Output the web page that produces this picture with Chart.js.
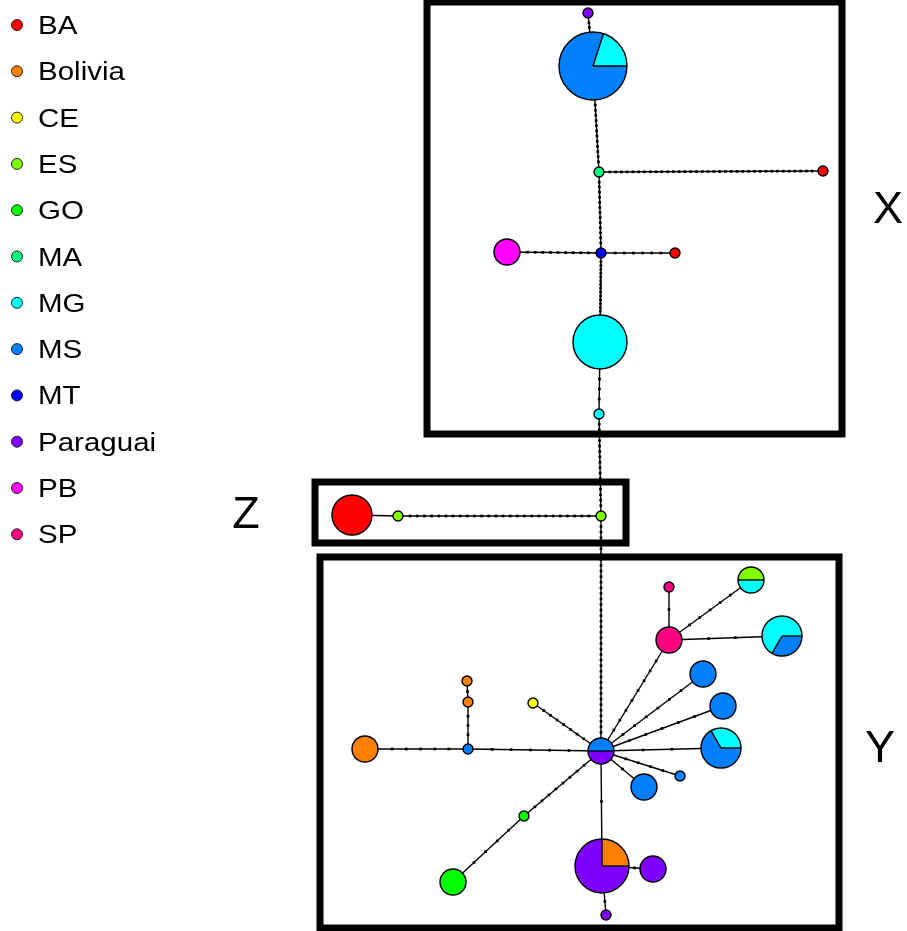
<!DOCTYPE html>
<html>
<head>
<meta charset="utf-8">
<script src="https://cdn.jsdelivr.net/npm/chart.js@4/dist/chart.umd.min.js"></script>
<style>
  html, body { margin: 0; padding: 0; background: #fff; }
  #wrap { width: 907px; height: 931px; }
</style>
</head>
<body>
<div id="wrap"><canvas id="net" width="907" height="931"></canvas></div>
<script>
// Sampling regions and their colours
const regions = ['BA', 'Bolivia', 'CE', 'ES', 'GO', 'MA', 'MG', 'MS', 'MT', 'Paraguai', 'PB', 'SP'];
const regionColors = ['#ff0000', '#ff8000', '#ffff00', '#80ff00', '#00ff00', '#00ff80',
                      '#00ffff', '#0080ff', '#0000ff', '#8000ff', '#ff00ff', '#ff0080'];

// Haplotype layout coordinates
const hapX = [588, 593, 599, 823, 601, 507, 675, 600, 599, 601, 398, 352,
              601, 669, 669, 751, 782, 703, 723, 721, 680, 644, 602, 653,
              606, 524, 453, 533, 468, 468, 467, 365];
const hapY = [13, 66, 172, 171, 253, 252, 253, 342, 414, 516, 516, 515,
              751, 640, 587, 580, 636, 674, 706, 748, 776, 787, 866, 869,
              915, 816, 882, 703, 749, 702, 681, 749];

// Number of individuals of each region carrying every haplotype
const hapCounts = [
  { Paraguai: 1 }, { MG: 1, MS: 4 }, { MA: 1 }, { BA: 1 }, { MT: 1 }, { PB: 2 },
  { BA: 1 }, { MG: 4 }, { MG: 1 }, { ES: 1 }, { ES: 1 }, { BA: 3 },
  { MS: 1, Paraguai: 1 }, { SP: 2 }, { SP: 1 }, { ES: 1, MG: 1 }, { MG: 2, MS: 1 },
  { MS: 2 }, { MS: 2 }, { MG: 1, MS: 2 }, { MS: 1 }, { MS: 2 },
  { Bolivia: 1, Paraguai: 3 }, { Paraguai: 2 }, { Paraguai: 1 }, { GO: 1 }, { GO: 2 },
  { CE: 1 }, { MS: 1 }, { Bolivia: 1 }, { Bolivia: 1 }, { Bolivia: 2 }
];

// Network links and the number of mutational steps on each
const edgeFrom  = [0, 1, 2, 2, 4, 4, 4, 7, 8, 9, 10, 9, 12, 13, 13, 13, 12, 12, 12, 12, 12, 12, 22, 22, 12, 25, 12, 12, 28, 28, 29];
const edgeTo    = [1, 2, 3, 4, 5, 6, 7, 8, 9, 10, 11, 12, 13, 14, 15, 16, 17, 18, 19, 20, 21, 22, 23, 24, 25, 26, 27, 28, 31, 29, 30];
const edgeSteps = [2, 12, 36, 13, 9, 6, 14, 3, 16, 26, 0, 38, 8, 1, 5, 2, 6, 5, 2, 4, 1, 1, 1, 1, 8, 4, 7, 5, 5, 3, 1];

// Group labels for the boxed clades
const cladeNames = ['X', 'Z', 'Y'];

// ---- drawing helpers ----
const radiusByCount = [0, 5, 13, 20, 27, 34];
function totalOf(c) { return Object.values(c).reduce((a, b) => a + b, 0); }
function radiusOf(i) { return radiusByCount[totalOf(hapCounts[i])]; }

// line datasets, one per link
const edgeSets = edgeFrom.map((f, k) => ({
  data: [{ x: hapX[f], y: hapY[f] }, { x: hapX[edgeTo[k]], y: hapY[edgeTo[k]] }],
  showLine: true,
  borderColor: '#000',
  borderWidth: 1.4,
  pointRadius: 0,
  order: 2
}));

// mutational step marks spread along each link, between the node rims
const marks = [];
edgeFrom.forEach((f, k) => {
  const t = edgeTo[k], n = edgeSteps[k];
  if (!n) return;
  const dx = hapX[t] - hapX[f], dy = hapY[t] - hapY[f];
  const len = Math.hypot(dx, dy);
  const r0 = radiusOf(f) / len, r1 = radiusOf(t) / len;
  for (let j = 1; j <= n; j++) {
    const s = r0 + (1 - r0 - r1) * j / (n + 1);
    marks.push({ x: hapX[f] + dx * s, y: hapY[f] + dy * s });
  }
});
const markSet = {
  data: marks,
  pointStyle: 'rect',
  pointRadius: 1.9,
  backgroundColor: '#000',
  borderWidth: 0,
  order: 1
};

const cladeBoxes = {
  X: { box: [427, 2, 842, 434], label: [888, 209] },
  Z: { box: [315, 482, 626, 543], label: [246, 514] },
  Y: { box: [320, 557, 839, 928], label: [880, 748] }
};

const networkPlugin = {
  id: 'haplotypeNetwork',
  beforeDatasetsDraw(chart) {
    const { ctx, scales: { x, y } } = chart;
    ctx.save();
    ctx.strokeStyle = '#000';
    ctx.lineWidth = 7;
    cladeNames.forEach(name => {
      const [x1, y1, x2, y2] = cladeBoxes[name].box;
      const px1 = x.getPixelForValue(x1), py1 = y.getPixelForValue(y1);
      const px2 = x.getPixelForValue(x2), py2 = y.getPixelForValue(y2);
      ctx.strokeRect(px1, py1, px2 - px1, py2 - py1);
    });
    ctx.restore();
  },
  afterDatasetsDraw(chart) {
    const { ctx, scales: { x, y } } = chart;
    ctx.save();
    hapX.forEach((hx, i) => {
      const cx = x.getPixelForValue(hx), cy = y.getPixelForValue(hapY[i]);
      const r = radiusOf(i);
      const counts = hapCounts[i];
      const total = totalOf(counts);
      let start = 0;
      const bounds = [];
      regions.forEach((reg, ri) => {
        const c = counts[reg];
        if (!c) return;
        const sweep = 2 * Math.PI * c / total;
        ctx.beginPath();
        ctx.moveTo(cx, cy);
        ctx.arc(cx, cy, r, start, start - sweep, true);
        ctx.closePath();
        ctx.fillStyle = regionColors[ri];
        ctx.fill();
        bounds.push(start);
        start -= sweep;
      });
      ctx.strokeStyle = '#000';
      ctx.lineWidth = 1.4;
      if (bounds.length > 1) {
        bounds.forEach(a => {
          ctx.beginPath();
          ctx.moveTo(cx, cy);
          ctx.lineTo(cx + r * Math.cos(a), cy + r * Math.sin(a));
          ctx.stroke();
        });
      }
      ctx.beginPath();
      ctx.arc(cx, cy, r, 0, 2 * Math.PI);
      ctx.stroke();
    });
    ctx.restore();
  },
  afterDraw(chart) {
    const { ctx, scales: { x, y } } = chart;
    ctx.save();
    // clade letters
    ctx.fillStyle = '#000';
    ctx.font = '45px "Liberation Sans", Arial, sans-serif';
    ctx.textAlign = 'center';
    ctx.textBaseline = 'middle';
    cladeNames.forEach(name => {
      const [lx, ly] = cladeBoxes[name].label;
      ctx.fillText(name, x.getPixelForValue(lx), y.getPixelForValue(ly) + 2);
    });
    // region legend
    ctx.textAlign = 'left';
    ctx.textBaseline = 'alphabetic';
    ctx.font = '25px "Liberation Sans", Arial, sans-serif';
    regions.forEach((reg, i) => {
      const rowY = 25 + i * 46.3;
      ctx.beginPath();
      ctx.arc(17, rowY, 5.5, 0, 2 * Math.PI);
      ctx.fillStyle = regionColors[i];
      ctx.fill();
      ctx.lineWidth = 1;
      ctx.strokeStyle = '#222';
      ctx.stroke();
      ctx.fillStyle = '#000';
      ctx.save();
      ctx.translate(38, rowY + 9);
      ctx.scale(1.18, 1);
      ctx.fillText(reg, 0, 0);
      ctx.restore();
    });
    ctx.restore();
  }
};

new Chart(document.getElementById('net'), {
  type: 'scatter',
  data: { datasets: [...edgeSets, markSet] },
  options: {
    responsive: false,
    animation: false,
    layout: { padding: 0, autoPadding: false },
    plugins: { legend: { display: false }, tooltip: { enabled: false } },
    scales: {
      x: { type: 'linear', min: 0, max: 907, display: false },
      y: { type: 'linear', min: 0, max: 931, reverse: true, display: false }
    }
  },
  plugins: [networkPlugin]
});
</script>
</body>
</html>
